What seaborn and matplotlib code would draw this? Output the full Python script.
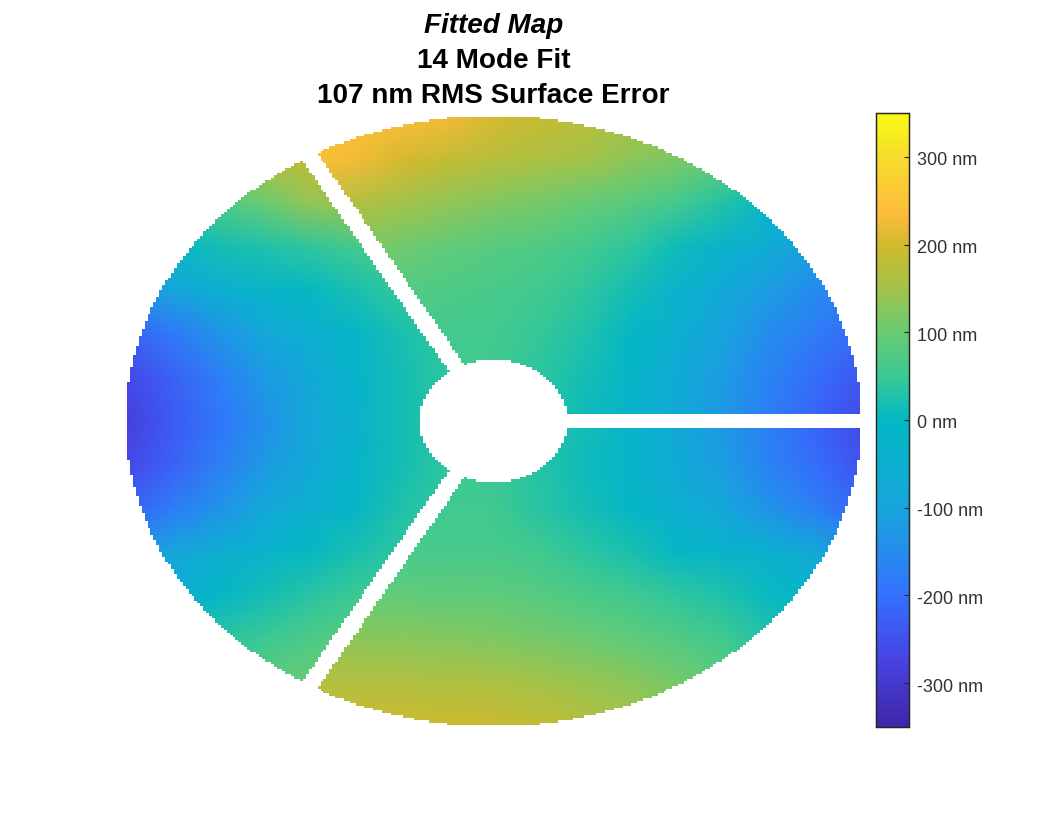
import numpy as np
import seaborn as sns
import matplotlib.pyplot as plt
from matplotlib.colors import LinearSegmentedColormap, ListedColormap
from matplotlib.patches import Polygon
from matplotlib.transforms import ScaledTranslation

# values (nm), 15 rows top to bottom x 17 columns left to right
LEFT_SECTOR = [
    [230, 230, 230, 230, 225, 220, 215, 210, 205, 200, 200, 200, 200, 200, 200, 200, 200],
    [120, 130, 150, 165, 185, 190, 190, 190, 190, 190, 190, 190, 190, 190, 190, 190, 190],
    [10, 30, 70, 100, 135, 140, 140, 140, 140, 140, 140, 140, 140, 140, 140, 140, 140],
    [-50, -20, 15, 25, 40, 60, 80, 90, 90, 90, 90, 90, 90, 90, 90, 90, 90],
    [-150, -100, -50, -20, 0, 20, 45, 60, 60, 60, 60, 60, 60, 60, 60, 60, 60],
    [-225, -185, -135, -90, -50, -10, 20, 45, 50, 50, 50, 50, 50, 50, 50, 50, 50],
    [-265, -225, -175, -125, -75, -25, 15, 40, 45, 45, 45, 45, 45, 45, 45, 45, 45],
    [-280, -235, -190, -140, -90, -35, 15, 40, 45, 45, 45, 45, 45, 45, 45, 45, 45],
    [-265, -225, -175, -125, -75, -25, 15, 40, 45, 45, 45, 45, 45, 45, 45, 45, 45],
    [-225, -180, -135, -90, -50, -10, 25, 45, 50, 50, 50, 50, 50, 50, 50, 50, 50],
    [-150, -100, -60, -30, 0, 20, 40, 55, 55, 55, 55, 55, 55, 55, 55, 55, 55],
    [-80, -50, -10, 15, 35, 50, 60, 65, 65, 65, 65, 65, 65, 65, 65, 65, 65],
    [-20, 10, 35, 50, 70, 85, 90, 90, 90, 90, 90, 90, 90, 90, 90, 90, 90],
    [30, 50, 70, 85, 100, 110, 110, 110, 110, 110, 110, 110, 110, 110, 110, 110, 110],
    [80, 90, 100, 110, 120, 130, 130, 130, 130, 130, 130, 130, 130, 130, 130, 130, 130],
]
UPPER_SECTOR = [
    [240, 240, 240, 240, 240, 245, 240, 225, 205, 190, 175, 160, 140, 120, 100, 70, 40],
    [240, 240, 240, 240, 245, 225, 205, 185, 170, 160, 148, 130, 115, 95, 55, 15, -25],
    [170, 170, 170, 170, 170, 165, 150, 135, 122, 110, 95, 80, 60, 30, -10, -45, -75],
    [125, 125, 125, 125, 125, 120, 105, 92, 82, 72, 60, 40, 10, -25, -65, -110, -140],
    [85, 85, 85, 85, 85, 85, 78, 70, 65, 55, 40, 15, -30, -80, -115, -150, -180],
    [65, 65, 65, 65, 65, 65, 65, 60, 58, 45, 25, -5, -50, -105, -145, -180, -210],
    [55, 55, 55, 55, 55, 55, 55, 55, 55, 38, 15, -15, -70, -120, -165, -205, -240],
    [45, 45, 45, 45, 45, 45, 45, 45, 45, 30, 10, -25, -75, -125, -175, -220, -260],
    [45, 45, 45, 45, 45, 45, 45, 45, 45, 30, 10, -25, -75, -125, -175, -220, -260],
    [45, 45, 45, 45, 45, 45, 45, 45, 45, 30, 10, -25, -75, -125, -175, -220, -260],
    [45, 45, 45, 45, 45, 45, 45, 45, 45, 30, 10, -25, -75, -125, -175, -220, -260],
    [45, 45, 45, 45, 45, 45, 45, 45, 45, 30, 10, -25, -75, -125, -175, -220, -260],
    [45, 45, 45, 45, 45, 45, 45, 45, 45, 30, 10, -25, -75, -125, -175, -220, -260],
    [45, 45, 45, 45, 45, 45, 45, 45, 45, 30, 10, -25, -75, -125, -175, -220, -260],
    [45, 45, 45, 45, 45, 45, 45, 45, 45, 30, 10, -25, -75, -125, -175, -220, -260],
]
LOWER_SECTOR = [
    [45, 45, 45, 45, 45, 45, 45, 45, 45, 30, 15, -25, -75, -125, -175, -220, -260],
    [45, 45, 45, 45, 45, 45, 45, 45, 45, 30, 15, -25, -75, -125, -175, -220, -260],
    [45, 45, 45, 45, 45, 45, 45, 45, 45, 30, 15, -25, -75, -125, -175, -220, -260],
    [45, 45, 45, 45, 45, 45, 45, 45, 45, 30, 15, -25, -75, -125, -175, -220, -260],
    [45, 45, 45, 45, 45, 45, 45, 45, 45, 30, 15, -25, -75, -125, -175, -220, -260],
    [45, 45, 45, 45, 45, 45, 45, 45, 45, 30, 15, -25, -75, -125, -175, -220, -260],
    [45, 45, 45, 45, 45, 45, 45, 45, 45, 30, 15, -25, -75, -125, -175, -220, -260],
    [45, 45, 45, 45, 45, 45, 45, 45, 45, 30, 15, -25, -75, -125, -175, -220, -260],
    [50, 50, 50, 50, 50, 50, 50, 50, 48, 32, 10, -22, -70, -115, -165, -205, -245],
    [55, 55, 55, 55, 55, 55, 55, 55, 55, 35, 15, -10, -50, -90, -135, -175, -215],
    [65, 65, 65, 65, 65, 65, 65, 65, 65, 55, 38, 20, -5, -25, -45, -80, -125],
    [100, 100, 100, 100, 100, 95, 92, 90, 88, 80, 68, 55, 40, 25, 5, -20, -60],
    [135, 135, 135, 135, 135, 130, 128, 125, 120, 112, 102, 90, 75, 55, 30, 5, -30],
    [165, 165, 165, 165, 165, 165, 165, 163, 160, 152, 142, 130, 110, 85, 60, 30, 0],
    [195, 195, 195, 195, 195, 195, 195, 195, 192, 185, 172, 155, 135, 110, 85, 55, 25],
]

# titles and colorbar
TITLE_LINES = ["Fitted Map", "14 Mode Fit", "107 nm RMS Surface Error"]
CBAR_TICKS = [-300, -200, -100, 0, 100, 200, 300]
VMIN, VMAX = -350, 350

# aperture shape, in units of the outer radius
OUTER_RADIUS = 1.004
HOLE_RADIUS = 0.2018
STRUT_HALF = 0.024
STRUT_ANGLES = [0, 120, 240]
MASK_CELLS = 250

plt.rcParams["font.family"] = ["Liberation Sans", "DejaVu Sans"]

PARULA = LinearSegmentedColormap.from_list("parula", [
    (0.0, "#3e26a8"), (0.107, "#4742e3"), (0.214, "#3471fe"), (0.357, "#17a6dc"),
    (0.5, "#03b8c4"), (0.571, "#3ac994"), (0.643, "#68cb74"), (0.714, "#a2c34a"),
    (0.786, "#d0b92d"), (0.835, "#fdbb3c"), (0.93, "#f6dc2c"), (1.0, "#f9fb15"),
], N=256)

W, H = 1041, 818
MAP_BOX = [127 / W, (H - 725) / H, 733 / W, 608 / H]
CBAR_BOX = [875.5 / W, (H - 727) / H, 33 / W, 614 / H]


def sector_patch(ax, start, end, nrow, ncol):
    # wedge in data coordinates, used only to keep each sector on its own side of the struts
    angles = np.radians([start, (start + end) / 2, end])
    nx = np.r_[0, 3 * np.cos(angles)]
    ny = np.r_[0, 3 * np.sin(angles)]
    px = (nx + 1) / 2 * (ncol - 1)
    py = (1 - ny) / 2 * (nrow - 1)
    return Polygon(np.c_[px, py], transform=ax.transData)


def outside_aperture():
    c = (np.arange(MASK_CELLS) + 0.5) / (MASK_CELLS / 2) - 1
    x, y = np.meshgrid(c, -c)
    r = np.hypot(x, y)
    out = (r > OUTER_RADIUS) | (r < HOLE_RADIUS)
    for a in np.radians(STRUT_ANGLES):
        along = x * np.cos(a) + y * np.sin(a)
        across = -x * np.sin(a) + y * np.cos(a)
        out |= (along > 0) & (np.abs(across) < STRUT_HALF)
    return out


def main():
    fig = plt.figure(figsize=(W / 100, H / 100), dpi=100)
    ax = fig.add_axes(MAP_BOX)
    cax = fig.add_axes(CBAR_BOX)

    sectors = [(LEFT_SECTOR, 120, 240), (UPPER_SECTOR, 0, 120), (LOWER_SECTOR, -120, 0)]
    for i, (grid, start, end) in enumerate(sectors):
        data = np.array(grid, dtype=float)
        nrow, ncol = data.shape
        sns.heatmap(data, ax=ax, cmap=PARULA, vmin=VMIN, vmax=VMAX, shading="gouraud",
                    xticklabels=False, yticklabels=False,
                    cbar=i == 0, cbar_ax=cax if i == 0 else None)
        ax.collections[-1].set_clip_path(sector_patch(ax, start, end, nrow, ncol))
    ax.set_xlim(0, ncol - 1)
    ax.set_ylim(nrow - 1, 0)
    ax.axis("off")

    # white cells give the stepped edge of the aperture
    mask_ax = fig.add_axes(MAP_BOX)
    out = outside_aperture()
    sns.heatmap(out.astype(float), mask=~out, ax=mask_ax, cmap=ListedColormap(["white"]),
                cbar=False, xticklabels=False, yticklabels=False)
    mask_ax.axis("off")

    cax.set_yticks(CBAR_TICKS)
    cax.set_yticklabels([f"{t} nm" for t in CBAR_TICKS], fontsize=13, color="#333333")
    cax.tick_params(axis="y", direction="in", length=3.6, width=0.8, color="#262626", pad=6,
                    right=True, labelright=True, left=False, labelleft=False)
    # labels sit a little below their ticks
    shift = ScaledTranslation(0, -2 / 100, fig.dpi_scale_trans)
    for label in cax.get_yticklabels():
        label.set_transform(label.get_transform() + shift)
    for s in cax.spines.values():
        s.set_visible(True)
        s.set_linewidth(0.9)
        s.set_color("#262626")

    for line, ypx, style in zip(TITLE_LINES, [26, 61, 96], ["italic", "normal", "normal"]):
        fig.text(493.5 / W, 1 - ypx / H, line, ha="center", va="center", fontsize=20.1,
                 fontweight="bold", fontstyle=style, color="black")

    fig.savefig("out.png", dpi=100, facecolor="white")


if __name__ == "__main__":
    main()
